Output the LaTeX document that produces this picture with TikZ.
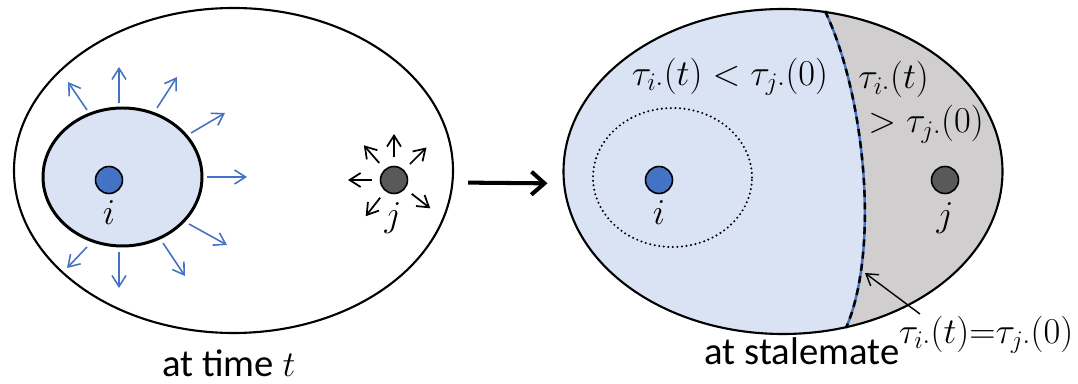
\documentclass[tikz,border=0pt]{standalone}
\usepackage{fontspec}
\setmainfont{Carlito}
\usetikzlibrary{arrows.meta,shapes.geometric}
\definecolor{regionblue}{RGB}{218,227,243}
\definecolor{regiongray}{RGB}{208,206,206}
\definecolor{dotblue}{RGB}{68,114,196}
\definecolor{dotgray}{RGB}{89,89,89}
\begin{document}
\begin{tikzpicture}[
    barb/.style={-{Straight Barb[length=2.2mm,width=2.8mm]}},
    spread/.style={barb, dotblue, line width=0.9pt},
    push/.style={barb, black, line width=1pt},
    region/.style={draw, ellipse, line width=1.2pt, minimum width=8.78cm, minimum height=6.5cm, inner sep=0pt},
    bluedot/.style={circle, draw, line width=0.9pt, fill=dotblue, minimum size=0.54cm, inner sep=0pt},
    graydot/.style={bluedot, fill=dotgray},
    caption/.style={anchor=base, inner sep=0pt, font=\fontsize{22}{26}\selectfont},
    every node/.style={font=\fontsize{21}{25}\selectfont}
]
\useasboundingbox (0,0) rectangle (21.56,7.68);
% 左图
\node[region] (before) at (4.67,4.27) {};
\draw[fill=regionblue, line width=1.7pt] (2.45,4.14) ellipse (1.59 and 1.38);
\foreach \xa/\ya/\xb/\yb in {1.74/5.48/1.36/6.04, 2.38/5.62/2.38/6.34, 3.14/5.52/3.54/6.14,
                   3.82/5.02/4.50/5.42, 4.14/4.14/4.94/4.14, 3.78/3.20/4.54/2.78,
                   3.26/2.82/3.70/2.16, 2.38/2.64/2.38/1.92, 1.74/2.74/1.34/2.32}
    \draw[spread] (\xa,\ya) -- (\xb,\yb);
\node[bluedot] (i1) at (2.18,4.08) {};
\node at (2.18,3.42) {$i$};
\node[graydot] (j1) at (7.88,4.08) {};
\node at (7.86,3.32) {$j$};
\begin{scope}[shift={(7.88,4.08)}]
    \foreach \t in {45,90,131,180,232,322}
        \draw[push] (\t:0.45) -- (\t:0.92);
\end{scope}
\node[caption] at (4.58,0.14) {at time $t$};
% 右图
\begin{scope}
    \clip (15.66,4.25) ellipse (4.40 and 3.27);
    \fill[regionblue] (11,0.8) rectangle (20.2,7.7);
    \fill[regiongray] (16.50,7.46) .. controls (17.30,5.78) and (17.60,2.68) .. (16.92,1.12)
        -- (20.2,0.8) -- (20.2,7.7) -- cycle;
\end{scope}
% 边界
\draw[dotblue, line width=1.4pt] (16.50,7.46) .. controls (17.30,5.78) and (17.60,2.68) .. (16.92,1.12);
\draw[black, line width=1.4pt, dash pattern=on 4pt off 3pt] (16.50,7.46) .. controls (17.30,5.78) and (17.60,2.68) .. (16.92,1.12);
\node[region] (after) at (15.66,4.25) {};
\draw[line width=1.3pt, line cap=round, dash pattern=on 0pt off 2.6pt] (13.45,4.13) ellipse (1.59 and 1.39);
\node[bluedot] (i2) at (13.18,4.08) {};
\node at (13.18,3.42) {$i$};
\node[graydot] (j2) at (18.90,4.08) {};
\node at (18.90,3.32) {$j$};
\node at (14.60,6.14) {$\tau_{i\cdot}(t) < \tau_{j\cdot}(0)$};
\node[align=left] at (18.42,5.63) {$\tau_{i\cdot}(t)$\\\hspace{0.2cm}$>\tau_{j\cdot}(0)$};
\node[inner sep=1pt] (eq) at (19.72,0.98) {$\tau_{i\cdot}(t){=}\tau_{j\cdot}(0)$};
\coordinate (tip) at (17.30,2.22);
\draw[barb, line width=0.8pt] ([xshift=-1.32cm]eq.north) -- (tip);
\node[caption] at (16.04,0.38) {at stalemate};
% 箭头
\draw[line width=2.3pt, -{Straight Barb[length=2.6mm,width=4.6mm]}, shorten <=0.28cm, shorten >=0.3cm]
    ([yshift=-0.24cm]before.east) -- ([yshift=-0.24cm]after.west);
\end{tikzpicture}
\end{document}
